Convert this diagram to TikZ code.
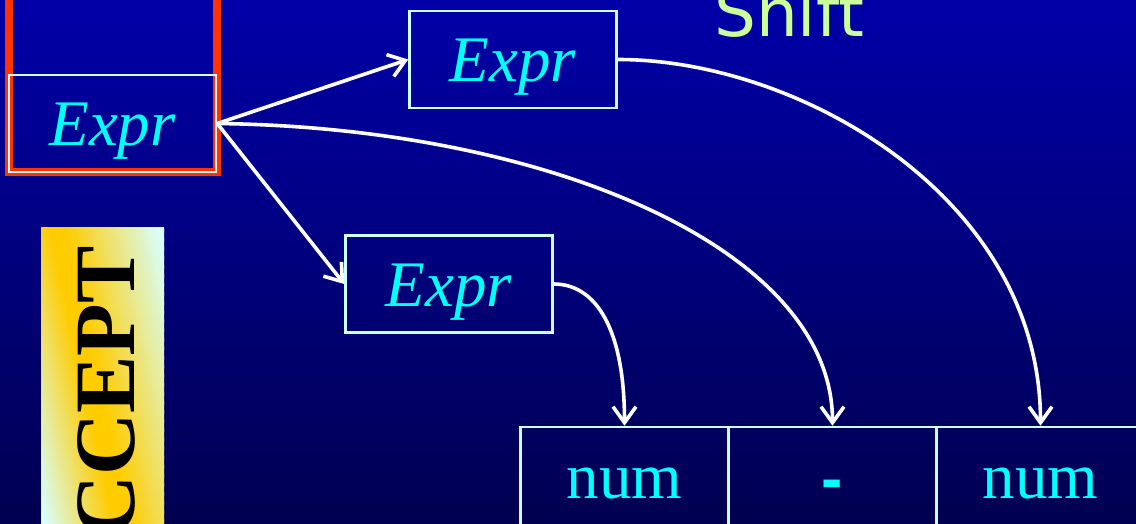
\documentclass[tikz,border=0pt]{standalone}
\usepackage{fontspec}
\setmainfont{Liberation Serif}
\newfontfamily\shiftfont{DejaVu Sans}
\newfontfamily\dashfont{Liberation Sans}
\usetikzlibrary{arrows.meta}
\definecolor{bgtop}{HTML}{0000A8}
\definecolor{bgbot}{HTML}{000050}
\definecolor{boxline}{HTML}{CCFFFF}
\definecolor{exprcyan}{HTML}{00FFFF}
\definecolor{framered}{HTML}{FF3300}
\definecolor{shiftgreen}{HTML}{CCFF99}
\definecolor{accyellow}{HTML}{FFCC00}
\definecolor{accpale}{HTML}{D8FFFF}
\begin{document}
\begin{tikzpicture}[x=1pt,y=-1pt,
  symbox/.style={draw=boxline, line width=2.5pt, minimum width=207pt,
    minimum height=97pt, inner sep=0pt, text=exprcyan,
    font=\fontsize{65}{65}\selectfont\itshape, text height=45pt, text depth=0pt},
  cell/.style={draw=boxline, line width=2.5pt, minimum width=208pt,
    minimum height=120pt, inner sep=0pt, text=exprcyan,
    font=\fontsize{65}{65}\selectfont, text height=22pt, text depth=0pt},
  link/.style={draw=white, line width=3.6pt,
    -{Straight Barb[length=16pt,width=23pt]}}
]
\useasboundingbox (0,0) rectangle (1136,524);
\clip (0,0) rectangle (1136,524);

% slide background
\shade[top color=bgtop, bottom color=bgbot] (0,0) rectangle (1136,524);

% red frame around the stack top
\draw[framered, line width=8pt] (9,-30) rectangle (217,172);

% ACCEPT banner with a diagonal yellow band
\begin{scope}
  \clip (41,227) rectangle (164,540);
  \foreach \i in {-45,...,55} {
    \pgfmathsetmacro\ua{\i*2}
    \pgfmathsetmacro\ub{\i*2+2.6}
    \pgfmathsetmacro\uc{\i*2+1}
    \pgfmathsetmacro\w{ifthenelse(\uc<0,70,95)}
    \pgfmathsetmacro\p{min(100,max(0,(abs(\uc)-8)/\w*100))}
    \fill[accpale!\p!accyellow] (55.5+\ua,220) -- (55.5+\ub,220)
      -- (126+\ub,540) -- (126+\ua,540) -- cycle;
  }
\end{scope}
\node[rotate=90, anchor=base east, inner sep=0pt,
  font=\fontsize{86}{86}\selectfont\bfseries] (accept) at (134,246) {ACCEPT};

% action label
\node[anchor=base west, inner sep=0pt, text=shiftgreen,
  font=\shiftfont\fontsize{66}{66}\selectfont] (shift) at (714,37) {Shift};

% parse tree symbols
\node[symbox] (lexpr) at (112.5,123.5) {Expr};
\node[symbox] (uexpr) at (513,59.5) {Expr};
\node[symbox] (mexpr) at (449,284) {Expr};

% input tokens
\node[cell] (c1) at (624.5,487) {num};
\node[cell, font=\dashfont\bfseries\fontsize{64}{64}\selectfont,
  text height=26pt] (c2) at (832.5,487) {-};
\node[cell] (c3) at (1040.5,487) {num};

% links
\draw[link] (lexpr.east) -- (uexpr.west);
\draw[link] (lexpr.east) -- (mexpr.west);
\draw[link] (lexpr.east) .. controls +(330,4) and +(0,-177) .. (c2.north);
\draw[link] (uexpr.east) .. controls +(183,0) and +(0,-227) .. (c3.north);
\draw[link] (mexpr.east) .. controls +(42,0) and +(0,-97) .. (c1.north);
\end{tikzpicture}
\end{document}
